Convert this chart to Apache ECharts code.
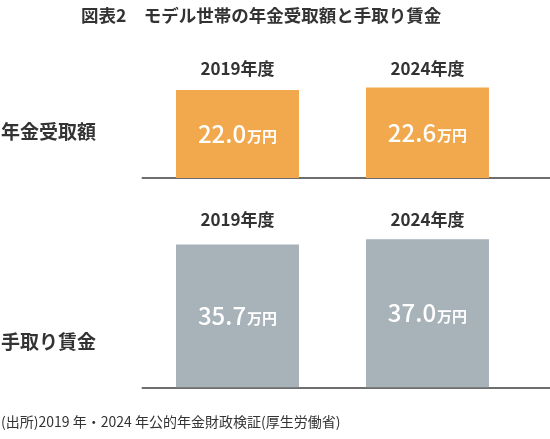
<!DOCTYPE html>
<html lang="ja">
<head>
    <meta charset="UTF-8">
    <title>モデル世帯の年金受取額と手取り賃金</title>
    <script src="https://cdn.jsdelivr.net/npm/echarts@6/dist/echarts.min.js"></script>
    <style>
        html, body { margin: 0; padding: 0; background: #fff; }
        #chart { width: 550px; height: 439px; }
    </style>
</head>
<body>
<div id="chart"></div>
<script>
    // データ
    var years = ['2019年度', '2024年度']
    var pension = [22.0, 22.6]   // 年金受取額(万円)
    var wage = [35.7, 37.0]      // 手取り賃金(万円)
    var rowNames = ['年金受取額', '手取り賃金']

    var FONT = '"Noto Sans CJK JP", "Noto Sans", sans-serif'
    var myChart = echarts.init(document.getElementById('chart'))

    function toPoints(arr) {
        var out = []
        for (var i = 0; i < arr.length; i++) {
            out.push([i, arr[i]])
        }
        return out
    }

    function valueLabel() {
        return {
            show: true,
            position: 'inside',
            formatter: function (p) {
                return '{n|' + p.value[1].toFixed(1) + '}{u|万円}'
            },
            rich: {
                n: { color: '#fff', fontSize: 24, fontFamily: FONT, fontWeight: 500 },
                u: { color: '#fff', fontSize: 15, fontFamily: FONT, fontWeight: 'bold', padding: [5, 0, 0, 1] }
            }
        }
    }

    function xAxes(gridIndex) {
        return [{
            // 下側の基線
            type: 'value', gridIndex: gridIndex, position: 'bottom',
            min: -0.5, max: 1.645,
            axisLine: { show: true, lineStyle: { color: '#6e6e6e', width: 2 } },
            axisTick: { show: false }, axisLabel: { show: false }, splitLine: { show: false }
        }, {
            // 上側の年度ラベル
            type: 'value', gridIndex: gridIndex, position: 'top',
            min: -0.5, max: 1.645,
            axisLine: { show: false }, axisTick: { show: false }, splitLine: { show: false },
            axisLabel: {
                show: true,
                customValues: [0, 1],
                formatter: function (v) { return years[Math.round(v)] },
                color: '#333', fontSize: 17, fontFamily: FONT, fontWeight: 'bold',
                verticalAlign: 'middle',
                margin: gridIndex === 0 ? 9 : 8,
                showMinLabel: true, showMaxLabel: true
            }
        }]
    }

    var yBase = {
        type: 'value', min: 0,
        axisLine: { show: false }, axisTick: { show: false },
        axisLabel: { show: false }, splitLine: { show: false }
    }

    myChart.setOption({
        animation: false,
        backgroundColor: '#fff',
        title: [{
            text: '図表2　モデル世帯の年金受取額と手取り賃金',
            left: 76, top: 2,
            textStyle: { color: '#333', fontSize: 17.5, fontWeight: 'bold', fontFamily: FONT }
        }, {
            text: rowNames[0],
            left: -4, top: 117,
            textStyle: { color: '#333', fontSize: 19, fontWeight: 'bold', fontFamily: FONT }
        }, {
            text: rowNames[1],
            left: -4, top: 327,
            textStyle: { color: '#333', fontSize: 19, fontWeight: 'bold', fontFamily: FONT }
        }, {
            text: '(出所)2019 年・2024 年公的年金財政検証(厚生労働省)',
            left: -4, top: 410,
            textStyle: { color: '#333', fontSize: 14, fontWeight: 'normal', fontFamily: FONT }
        }],
        grid: [
            { left: 142.5, right: 0, top: 78, height: 100 },
            { left: 142.5, right: 0, top: 227.3, height: 160 }
        ],
        xAxis: xAxes(0).concat(xAxes(1)),
        yAxis: [
            Object.assign({ gridIndex: 0, max: 25 }, yBase),
            Object.assign({ gridIndex: 1, max: 40 }, yBase)
        ],
        series: [{
            type: 'bar',
            xAxisIndex: 0, yAxisIndex: 0,
            data: toPoints(pension),
            barWidth: 123,
            itemStyle: { color: '#f2a84d' },
            label: valueLabel()
        }, {
            type: 'bar',
            xAxisIndex: 2, yAxisIndex: 1,
            data: toPoints(wage),
            barWidth: 123,
            itemStyle: { color: '#a8b2b9' },
            label: valueLabel()
        }]
    })
</script>
</body>
</html>
